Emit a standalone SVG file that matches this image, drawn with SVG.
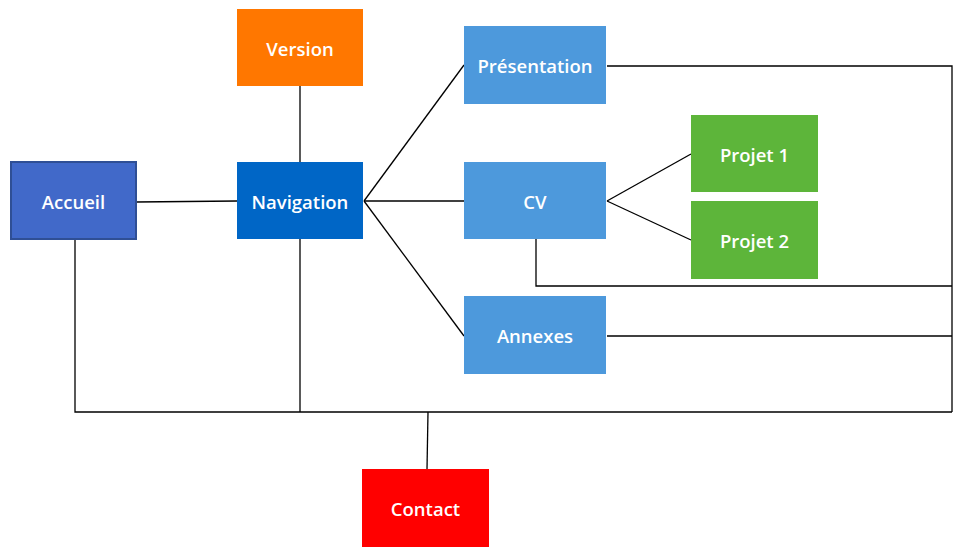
<svg xmlns="http://www.w3.org/2000/svg" width="969" height="557" viewBox="0 0 969 557">
<style>
.lbl{font-family:"Open Sans","Noto Sans",sans-serif;font-size:18.5px;font-weight:600;fill:#fff;text-anchor:middle;dominant-baseline:central}
.ln{stroke:#000;stroke-width:1.3;fill:none}
</style>
<rect width="969" height="557" fill="#fff"/>
<g id="connectors">
<line class="ln" x1="136" y1="202" x2="237" y2="201"/>
<line class="ln" x1="300" y1="86" x2="300" y2="162"/>
<line class="ln" x1="364" y1="201" x2="464" y2="65"/>
<line class="ln" x1="364" y1="201" x2="464" y2="201"/>
<line class="ln" x1="364" y1="201" x2="464" y2="336"/>
<line class="ln" x1="607" y1="201" x2="691" y2="154"/>
<line class="ln" x1="607" y1="201" x2="691" y2="240"/>
<polyline class="ln" points="607,66 952,66 952,412"/>
<polyline class="ln" points="536,239 536,286 952,286"/>
<line class="ln" x1="607" y1="336" x2="952" y2="336"/>
<polyline class="ln" points="75,239 75,412 952,412"/>
<line class="ln" x1="300" y1="239" x2="300" y2="412"/>
<line class="ln" x1="428" y1="412" x2="427" y2="469"/>
</g>
<g id="accueil"><rect x="11" y="162" width="125" height="77" fill="#4169C9" stroke="#2F4F95" stroke-width="2"/><text class="lbl" x="73.5" y="201">Accueil</text></g>
<g id="version"><rect x="237" y="9" width="126" height="77" fill="#FF7700"/><text class="lbl" x="300" y="48">Version</text></g>
<g id="navigation"><rect x="237" y="162" width="126" height="77" fill="#0066C6"/><text class="lbl" x="300" y="201">Navigation</text></g>
<g id="presentation"><rect x="464" y="26" width="142" height="78" fill="#4D99DC"/><text class="lbl" x="535" y="65">Présentation</text></g>
<g id="cv"><rect x="464" y="162" width="142" height="77" fill="#4D99DC"/><text class="lbl" x="535" y="201">CV</text></g>
<g id="annexes"><rect x="464" y="296" width="142" height="78" fill="#4D99DC"/><text class="lbl" x="535" y="335">Annexes</text></g>
<g id="projet1"><rect x="691" y="115" width="127" height="77" fill="#5DB53A"/><text class="lbl" x="754.5" y="154">Projet 1</text></g>
<g id="projet2"><rect x="691" y="201" width="127" height="78" fill="#5DB53A"/><text class="lbl" x="754.5" y="240">Projet 2</text></g>
<g id="contact"><rect x="362" y="469" width="127" height="78" fill="#FF0000"/><text class="lbl" x="425.5" y="508">Contact</text></g>
</svg>
